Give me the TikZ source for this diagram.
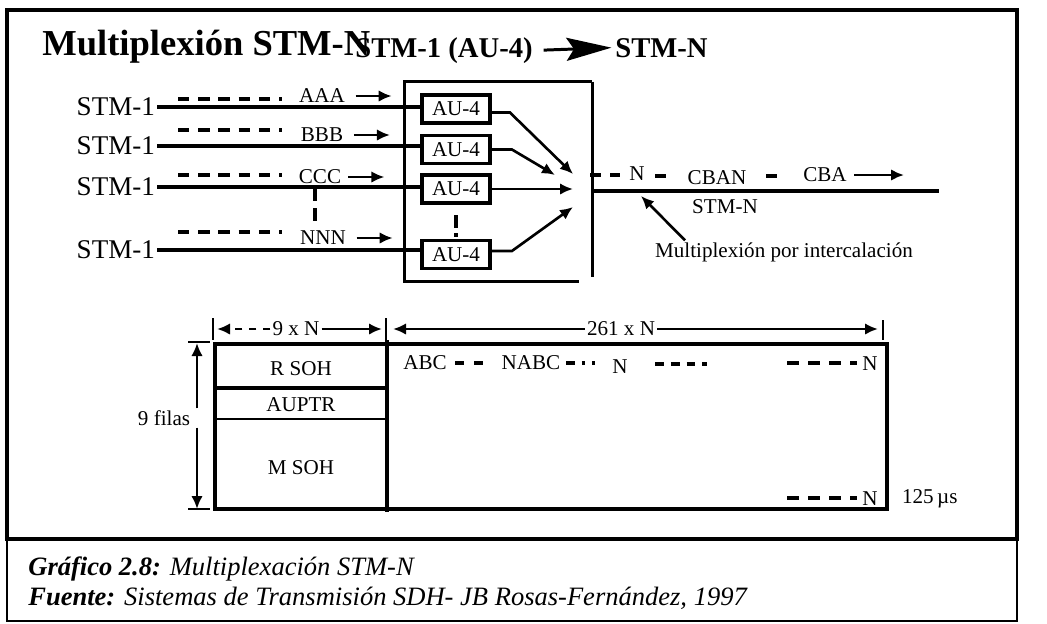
\documentclass[tikz,border=0pt]{standalone}
\usepackage{fontspec}
\setmainfont{Liberation Serif}
\usetikzlibrary{arrows.meta}

\begin{document}
\begin{tikzpicture}[x=0.02cm,y=-0.02cm,
        lbl/.style={font=\fontsize{15.4}{18}\selectfont,inner sep=1pt},
        small/.style={font=\fontsize{12}{14}\selectfont,inner sep=1pt},
        aubox/.style={draw,line width=2.2pt,minimum width=1.36cm,minimum height=0.56cm,
          inner sep=0pt,font=\fontsize{12}{14}\selectfont},
        sig/.style={line width=1.8pt},
        frm/.style={line width=1.8pt},
        dsh/.style={line width=2pt,dash pattern=on 6.5pt off 5pt},
        arrow/.style={-{Latex[length=2.6mm,width=2.3mm]},line width=1.5pt},
        bigarrow/.style={-{Stealth[length=9mm,width=4.6mm,inset=1.5mm]},line width=1.7pt}]
        \useasboundingbox (0,0) rectangle (1047,623);
        \draw[line width=1pt] (7,539) rectangle (1017,621);
        \draw[frm] (7,10) rectangle (1017,539);
        % title
        \node[anchor=base west,inner sep=0pt,font=\bfseries\fontsize{20.8}{24}\selectfont] (tit) at (42,55) {Multiplexión STM-N};
        \node[anchor=base west,inner sep=0pt,font=\bfseries\fontsize{16.3}{19}\selectfont] (t1) at (355,57) {STM-1 (AU-4)};
        \node[anchor=base west,inner sep=0pt,font=\bfseries\fontsize{16.3}{19}\selectfont] (t2) at (615,57) {STM-N};
        \draw[bigarrow] ([xshift=6pt]t1.east) -- ([xshift=-2pt]t2.west);
        % multiplexer
        \node[minimum width=3.74cm,minimum height=3.98cm] (mux) at (498.5,181.5) {};
        \draw[line width=1.7pt] (mux.north east) -- (mux.north west) -- (mux.south west) -- ([xshift=-0.26cm]mux.south east);
        \draw[line width=1.7pt] (mux.north east) -- ([yshift=0.08cm]mux.south east);
        \node[aubox] (au1) at (456,109) {AU-4};
        \node[aubox] (au2) at (456,149.5) {AU-4};
        \node[aubox] (au3) at (456,189) {AU-4};
        \node[aubox] (au4) at (456,254.5) {AU-4};
        \draw[line width=1.9pt,dash pattern=on 7pt off 3pt on 2pt off 20pt] ([yshift=-6pt]au3.south) -- (au4.north);
        % tributaries
        \node[lbl,anchor=east] (s1) at (157,107) {STM-1};
        \node[lbl,anchor=east] (s2) at (157,146) {STM-1};
        \node[lbl,anchor=east] (s3) at (157,187) {STM-1};
        \node[lbl,anchor=east] (s4) at (157,250) {STM-1};
        \draw[sig] (s1.east) -- (s1.east -| au1.west);
        \draw[sig] (s2.east) -- (s2.east -| au2.west);
        \draw[sig] (s3.east) -- (s3.east -| au3.west);
        \draw[sig] (s4.east) -- (s4.east -| au4.west);
        \node[small] (a) at (322,96) {AAA};
        \node[small] (b) at (322,135) {BBB};
        \node[small] (c) at (320,177) {CCC};
        \node[small] (n) at (323,238) {NNN};
        \draw[dsh] (178,99) -- (282,99);
        \draw[dsh] (178,130) -- (282,130);
        \draw[dsh] (178,175) -- (282,175);
        \draw[dsh] (178,232) -- (282,232);
        \draw[arrow] ([xshift=5pt]a.east) -- ++(36,0);
        \draw[arrow] ([xshift=5pt]b.east) -- ++(36,0);
        \draw[arrow] ([xshift=3pt]c.east) -- ++(36,0);
        \draw[arrow] ([xshift=5pt]n.east) -- ++(36,0);
        \draw[line width=1.9pt,dash pattern=on 7pt off 4pt] (315,189) -- (315,222);
        % interleaving
        \coordinate (m1) at (573,174);
        \coordinate (m2) at (555,175);
        \coordinate (m4) at (573,207);
        \draw[arrow] ([yshift=-2pt]au1.east) -- ++(18,0) -- (m1);
        \draw[arrow] (au2.east) -- ++(20,0) -- (m2);
        \draw[arrow] (au3.east) -- (au3.east -| m1);
        \draw[arrow] ([yshift=2pt]au4.east) -- ++(20,0) -- (m4);
        \coordinate (out) at (939,191);
        \draw[sig] (out -| mux.east) -- (out);
        \node[small] (on) at (637,174) {N};
        \node[small] (cban) at (717,178) {CBAN};
        \node[small] (cba) at (825,175) {CBA};
        \draw[dsh] (590,175) -- (620,175);
        \draw[dsh] (655,176) -- (667,176);
        \draw[dsh] (766,176) -- (777,176);
        \draw[arrow] ([xshift=3pt]cba.east) -- ++(50,0);
        \node[small] (stmn) at (725,207) {STM-N};
        \node[small] (mpi) at (784,252) {Multiplexión por intercalación};
        \coordinate (pn) at (641,196);
        \draw[arrow] ([xshift=0.64cm]mpi.north west) -- (pn);
        % frame
        \draw[frm] (215,344) rectangle (887,509);
        \draw[frm] (387,340) -- (387,512);
        \draw[frm] (215,388) -- (387,388);
        \draw[line width=1.3pt] (215,419) -- (387,419);
        \node[small] (rsoh) at (301,369) {R SOH};
        \node[small] (auptr) at (301,405) {AUPTR};
        \node[small] (msoh) at (301,468) {M SOH};
        % dimensions
        \node[small] (nxn) at (296,329) {9 x N};
        \node[small] (n261) at (621,329) {261 x N};
        \draw[line width=1.5pt] (213,318) -- (213,340);
        \draw[line width=1.5pt] (386,318) -- (386,340);
        \draw[line width=1.5pt] (883,320) -- (883,340);
        \draw[arrow,dash pattern=on 4pt off 4pt] (nxn.west) -- (217,329);
        \draw[arrow] (nxn.east) -- (382,329);
        \draw[arrow] (n261.west) -- (393,329);
        \draw[arrow] (n261.east) -- (878,329);
        \node[small] (filas) at (164,418) {9 filas};
        \coordinate (ft) at (197,343);
        \coordinate (fb) at (197,509);
        \draw[arrow] (ft |- filas.north) -- (ft);
        \draw[arrow] (fb |- filas.south) -- (fb);
        \draw[line width=1.5pt] (188,342) -- (210,342);
        \draw[line width=1.5pt] (188,509) -- (210,509);
        % payload
        \node[small] (abc) at (425,363) {ABC};
        \node[small] (nabc) at (531,363) {NABC};
        \node[small] (pn1) at (620,367) {N};
        \node[small] (pn2) at (870,364) {N};
        \node[small] (pn3) at (870,499) {N};
        \node[small,anchor=west] (us) at (900,499) {125\,µs};
        \draw[line width=1.9pt,dash pattern=on 5pt off 6pt] (455,363) -- (492,363);
        \draw[line width=1.9pt,dash pattern=on 5pt off 4pt on 2pt off 4pt] (566,363) -- (595,363);
        \draw[line width=1.9pt,dash pattern=on 5pt off 4pt] (655,364) -- (707,364);
        \draw[line width=1.9pt,dash pattern=on 7pt off 5pt] (787,363) -- (857,363);
        \draw[line width=1.9pt,dash pattern=on 7pt off 5pt] (787,498) -- (857,498);
        % caption
        \node[anchor=base west,inner sep=0pt,font=\itshape\fontsize{15.1}{18}\selectfont] (cap1) at (28,575) {\textbf{Gráfico 2.8:} Multiplexación STM-N};
        \node[anchor=base west,inner sep=0pt,font=\itshape\fontsize{15.1}{18}\selectfont] (cap2) at (28,605) {\textbf{Fuente:} Sistemas de Transmisión SDH- JB Rosas-Fernández, 1997};
      \end{tikzpicture}
\end{document}
